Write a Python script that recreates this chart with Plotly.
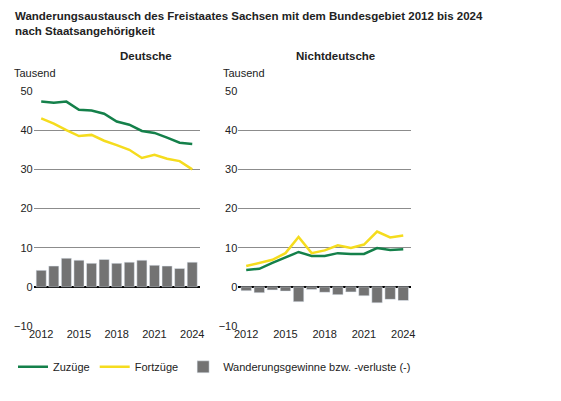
import plotly.graph_objects as go

years = list(range(2012, 2025))
de_zuzuege = [47.3, 47.0, 47.3, 45.2, 45.0, 44.2, 42.2, 41.4, 39.8, 39.3, 38.1, 36.8, 36.5]
de_fortzuege = [43.0, 41.7, 40.0, 38.5, 38.8, 37.3, 36.2, 35.0, 32.9, 33.7, 32.7, 32.1, 30.0]
de_saldo = [4.2, 5.3, 7.3, 6.8, 6.0, 7.0, 6.0, 6.3, 6.8, 5.5, 5.3, 4.7, 6.3]
nd_zuzuege = [4.3, 4.6, 6.1, 7.4, 8.9, 7.9, 7.9, 8.6, 8.4, 8.4, 9.9, 9.4, 9.6]
nd_fortzuege = [5.3, 6.1, 6.9, 8.6, 12.7, 8.6, 9.3, 10.6, 9.9, 10.8, 14.1, 12.6, 13.1]
nd_saldo = [-1.0, -1.5, -0.8, -1.1, -3.8, -0.7, -1.4, -2.0, -1.3, -2.3, -4.1, -3.2, -3.5]

GREEN = '#14804a'
YELLOW = '#f5dc1e'
GREY = '#737373'

fig = go.Figure()
for i, (zu, fo, sa) in enumerate([(de_zuzuege, de_fortzuege, de_saldo),
                                  (nd_zuzuege, nd_fortzuege, nd_saldo)]):
    xa = 'x' if i == 0 else 'x2'
    ya = 'y' if i == 0 else 'y2'
    show = i == 0
    fig.add_trace(go.Bar(x=years, y=sa, marker_color=GREY, width=0.8, xaxis=xa, yaxis=ya,
                         name='Wanderungsgewinne bzw. -verluste (-)', showlegend=show, legendrank=3))
    fig.add_trace(go.Scatter(x=years, y=zu, mode='lines', line=dict(color=GREEN, width=2.5),
                             xaxis=xa, yaxis=ya, name='Zuzüge', showlegend=show, legendrank=1))
    fig.add_trace(go.Scatter(x=years, y=fo, mode='lines', line=dict(color=YELLOW, width=2.5),
                             xaxis=xa, yaxis=ya, name='Fortzüge', showlegend=show, legendrank=2))

xcommon = dict(range=[2011.4, 2024.6], tickvals=[2012, 2015, 2018, 2021, 2024], showgrid=False,
               zeroline=False, ticks='', tickfont=dict(size=11, color='#222'))
ycommon = dict(range=[-10, 50], dtick=10, showgrid=True, gridcolor='#8c8c8c', gridwidth=1,
               zeroline=True, zerolinecolor='black', zerolinewidth=1.5, ticks='',
               tickfont=dict(size=11, color='#222'))

fig.update_layout(
    width=561, height=401,
    margin=dict(l=0, r=0, t=0, b=0),
    paper_bgcolor='white', plot_bgcolor='white',
    font=dict(family='Liberation Sans, Arial', size=11, color='#222'),
    xaxis=dict(domain=[0.0375, 0.339], anchor='y', **xcommon),
    yaxis=dict(domain=[0.198, 0.802], anchor='x', **ycommon),
    xaxis2=dict(domain=[0.409, 0.7225], anchor='y2', **xcommon),
    yaxis2=dict(domain=[0.198, 0.802], anchor='x2', **ycommon),
    bargap=0.2,
    legend=dict(orientation='h', x=0.0, y=0.093, xanchor='left', yanchor='middle',
                font=dict(size=11), traceorder='normal', itemwidth=30),
    showlegend=True,
    annotations=[
        dict(text='<b>Wanderungsaustausch des Freistaates Sachsen mit dem Bundesgebiet 2012 bis 2024<br>nach Staatsangehörigkeit</b>',
             x=0.0, y=1.015, xref='paper', yref='paper', xanchor='left', yanchor='top',
             showarrow=False, align='left', font=dict(size=11.5)),
        dict(text='<b>Deutsche</b>', x=0.19, y=0.912, xref='paper', yref='paper',
             showarrow=False, font=dict(size=11.5)),
        dict(text='<b>Nichtdeutsche</b>', x=0.585, y=0.912, xref='paper', yref='paper',
             showarrow=False, font=dict(size=11.5)),
        dict(text='Tausend', x=-0.002, y=0.868, xref='paper', yref='paper', xanchor='left',
             showarrow=False, font=dict(size=11)),
        dict(text='Tausend', x=0.377, y=0.868, xref='paper', yref='paper', xanchor='left',
             showarrow=False, font=dict(size=11)),
    ],
)

fig.write_html("out.html")
